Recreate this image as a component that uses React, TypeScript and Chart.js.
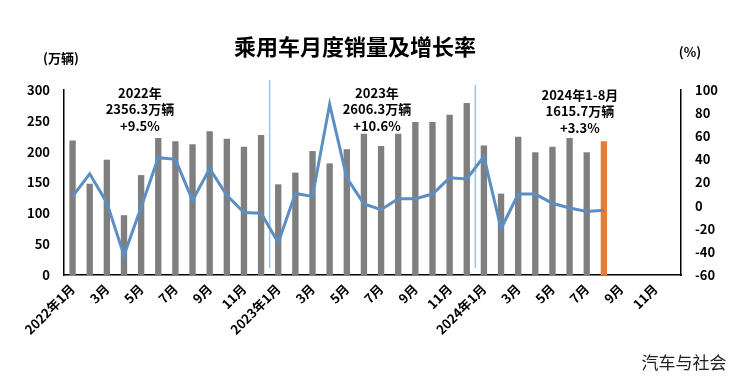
import React, { useEffect, useRef } from "react";
import { Chart, registerables } from "chart.js";

Chart.register(...registerables);

const years = ["2022", "2023", "2024"];
const months = ["1月", "2月", "3月", "4月", "5月", "6月", "7月", "8月", "9月", "10月", "11月", "12月"];
const categories: string[] = [];
years.forEach((y) => months.forEach((m, i) => categories.push(i === 0 ? `${y}年${m}` : m)));

// 万辆
const sales2022 = [218, 148, 187, 97, 162, 222, 217, 212, 233, 221, 208, 227];
const sales2023 = [147, 166, 201, 181, 204, 229, 209, 229, 248, 248, 260, 279];
const sales2024 = [210, 132, 224, 199, 208, 222, 199, 217];
// %
const growth2022 = [8, 27.5, 2.5, -43, -1.5, 41.5, 40, 4.5, 32, 9, -6, -6.5];
const growth2023 = [-32, 10.5, 8, 87.6, 24, 1.5, -3.5, 6, 6, 10, 24, 23];
const growth2024 = [42.5, -20, 10, 10, 2, -2, -5, -4];

const yearTitles = ["2022年", "2023年", "2024年1-8月"];
const yearTotals = ["2356.3万辆", "2606.3万辆", "1615.7万辆"];
const yearGrowth = ["+9.5%", "+10.6%", "+3.3%"];

const leftTicks = [0, 50, 100, 150, 200, 250, 300];
const rightTicks = [-60, -40, -20, 0, 20, 40, 60, 80, 100];

const FONT = '"Noto Sans CJK SC", "Noto Sans", sans-serif';

export default function App() {
  const ref = useRef<HTMLCanvasElement | null>(null);

  useEffect(() => {
    const sales = [...sales2022, ...sales2023, ...sales2024];
    const growth = [...growth2022, ...growth2023, ...growth2024];
    const barColors = sales.map((_, i) => (i === sales.length - 1 ? "#e27d3a" : "#7f7f7f"));
    const annoIdx = [3.93, 17.76, 29.6];
    const separators = [11.5, 23.5];

    const decor = {
      id: "decor",
      beforeDatasetsDraw(chart: any) {
        const ctx = chart.ctx;
        const xs = chart.scales.x;
        ctx.save();
        ctx.strokeStyle = "#9ec3e3";
        ctx.lineWidth = 1.5;
        separators.forEach((s, k) => {
          const x = xs.getPixelForValue(s);
          ctx.beginPath();
          ctx.moveTo(x, k === 0 ? 80 : 85);
          ctx.lineTo(x, 268);
          ctx.stroke();
        });
        ctx.restore();
      },
      afterDraw(chart: any) {
        const ctx = chart.ctx;
        const xs = chart.scales.x;
        ctx.save();
        ctx.fillStyle = "#000";
        ctx.textAlign = "center";
        ctx.textBaseline = "middle";
        ctx.font = `bold 22px ${FONT}`;
        ctx.fillText("乘用车月度销量及增长率", 355, 47);
        ctx.font = `bold 13px ${FONT}`;
        ctx.fillText("(万辆)", 61, 58);
        ctx.fillText("(%)", 690, 52);
        ctx.font = `bold 13px ${FONT}`;
        annoIdx.forEach((idx, k) => {
          const x = xs.getPixelForValue(idx);
          const y0 = k === 2 ? 95 : 93;
          ctx.fillText(yearTitles[k], x, y0);
          ctx.fillText(yearTotals[k], x, y0 + 16.5);
          ctx.fillText(yearGrowth[k], x, y0 + 33);
        });
        ctx.font = `17px ${FONT}`;
        ctx.fillStyle = "#222";
        ctx.fillText("汽车与社会", 684, 363);
        ctx.restore();
      },
    };

    const chart = new Chart(ref.current as HTMLCanvasElement, {
      type: "bar",
      data: {
        labels: categories,
        datasets: [
          {
            type: "line",
            label: "增长率",
            data: growth,
            yAxisID: "y1",
            borderColor: "#5b8fc3",
            borderWidth: 3,
            pointRadius: 0,
            tension: 0,
            order: 0,
          } as any,
          {
            type: "bar",
            label: "销量",
            data: sales,
            yAxisID: "y",
            backgroundColor: barColors,
            barPercentage: 0.37,
            categoryPercentage: 1,
            order: 1,
          },
        ],
      },
      options: {
        responsive: false,
        animation: false,
        layout: { padding: { top: 90, left: 0, right: 0, bottom: 0 } },
        plugins: { legend: { display: false }, tooltip: { enabled: false }, title: { display: false } },
        scales: {
          x: {
            offset: true,
            grid: { display: false, drawTicks: false },
            border: { display: true, color: "#000", width: 1.5 },
            ticks: {
              autoSkip: false,
              maxRotation: 45,
              minRotation: 45,
              padding: 6,
              color: "#000",
              font: { family: FONT, size: 13, weight: "bold" },
              callback: (_v: any, i: number) => (i % 2 === 0 ? categories[i] : ""),
            },
            afterFit: (s: any) => {
              s.height = 103;
            },
          },
          y: {
            position: "left",
            min: 0,
            max: 300,
            afterBuildTicks: (s: any) => {
              s.ticks = leftTicks.map((v) => ({ value: v }));
            },
            grid: { display: false, drawTicks: false },
            border: { display: true, color: "#000", width: 1.5 },
            ticks: { padding: 14, color: "#000", font: { family: FONT, size: 13, weight: "bold" } },
            afterFit: (s: any) => {
              s.width = 64;
            },
          },
          y1: {
            position: "right",
            min: -60,
            max: 100,
            afterBuildTicks: (s: any) => {
              s.ticks = rightTicks.map((v) => ({ value: v }));
            },
            grid: { display: false, drawTicks: false },
            border: { display: true, color: "#000", width: 1.5 },
            ticks: { padding: 14, color: "#000", font: { family: FONT, size: 13, weight: "bold" } },
            afterFit: (s: any) => {
              s.width = 59;
            },
          },
        },
      },
      plugins: [decor],
    });
    return () => chart.destroy();
  }, []);

  return (
    <div style={{ position: "absolute", left: 0, top: 0, width: 740, height: 378, background: "#fff" }}>
      <canvas ref={ref} width={740} height={378} />
    </div>
  );
}
